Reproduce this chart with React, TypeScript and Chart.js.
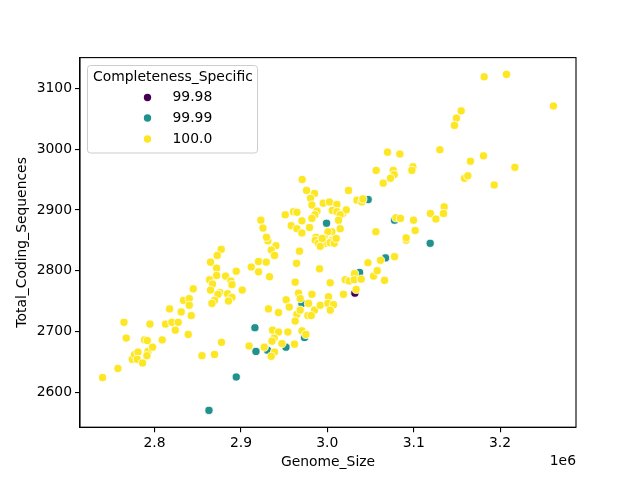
import React, { useEffect, useRef } from "react";
import { Chart, registerables } from "chart.js";

Chart.register(...registerables);

const completenessLevels = ["99.98", "99.99", "100.0"];
const levelColors = ["#440154", "#21918c", "#fde725"];

const genomeSize_9998 = [3031900];
const codingSeq_9998 = [2763];

const genomeSize_9999 = [
  2894600, 2863000, 2916200, 2973600, 2952100, 2917400, 2930800, 2970600,
  3037300, 3067400, 3119100, 2999100, 3047300, 3077800,
];
const codingSeq_9999 = [
  2625, 2570, 2706, 2690, 2674, 2667, 2669, 2746,
  2797, 2821, 2845, 2878, 2917, 2883,
];

const genomeSize_100 = [
  2739800, 2757600, 2764600, 2767200, 2774200, 2776900, 2780800, 2780000, 2786100, 2788400,
  2791600, 2792400, 2791200, 2797700, 2794700, 2808900, 2812700, 2817400, 2820100, 2827400,
  2824000, 2830900, 2833600, 2840200, 2840200, 2842500, 2839000, 2844800, 2854900, 2869400,
  2877500, 2909400, 2877200, 2872600, 2864800, 2871800, 2871800, 2863700, 2867100, 2864800,
  2875700, 2873400, 2869400, 2866400, 2882200, 2888400, 2889600, 2894600, 2884500, 2889600,
  2885600, 2901500, 2911900, 2931200, 2940500, 2935100, 2938900, 2967800, 2920400, 2920400,
  2929300, 2933100, 2964400, 2991000, 2962800, 3003400, 2966700, 2952400, 2968600, 2982200,
  3001400, 2955900, 2978200, 2931900, 2943500, 2964800, 2968600, 2985200, 2991800, 3000700,
  3007200, 3003400, 2977500, 2981400, 2962800, 2936600, 2943500, 2954400, 2970600, 2975200,
  2938500, 2935900, 2947500, 2962000, 2927000, 2938900, 2935100, 3018700, 3020700, 3025300,
  3031500, 3031200, 3039200, 3033400, 3047000, 3053500, 3057800, 3061600, 3077800, 3066200,
  3091300, 3069700, 3084000, 3056600, 3076300, 3077400, 3073100, 3064700, 3099100, 3097900,
  2970900, 2975900, 2985200, 2980600, 2995300, 3002500, 3011100, 2982200, 3024500, 3034300,
  3040000, 3041200, 2988000, 2985600, 3005700, 3011100, 3018100, 3021900, 3014900, 2951300,
  2960900, 2964800, 2982200, 2970600, 3013000, 2958200, 2964800, 2979400, 3014900, 3005300,
  3000700, 2970600, 2923100, 2925500, 2929600, 2986800, 2996800, 3005300, 2986000, 3001000,
  2997600, 3003400, 2989500, 2994100, 3008000, 2991800, 3010300, 3056200, 3079400, 3084700,
  3091300, 3099800, 3101700, 3181600, 3207400, 3261800, 3155000, 3149500, 3147200, 3130300,
  3180800, 3165700, 3217100, 3158800, 3162700, 3193200, 3135300, 3134500, 3119400, 3125700,
];
const codingSeq_100 = [
  2624, 2639, 2715, 2689, 2654, 2662, 2666, 2654, 2648, 2686,
  2685, 2667, 2660, 2674, 2712, 2686, 2712, 2737, 2715, 2715,
  2702, 2732, 2751, 2754, 2743, 2726, 2695, 2770, 2660, 2662,
  2682, 2676, 2835, 2825, 2814, 2804, 2792, 2785, 2778, 2768,
  2764, 2761, 2751, 2746, 2791, 2783, 2777, 2799, 2762, 2756,
  2750, 2768, 2806, 2849, 2841, 2834, 2825, 2832, 2815, 2798,
  2814, 2790, 2812, 2803, 2781, 2780, 2763, 2752, 2754, 2761,
  2757, 2740, 2746, 2737, 2731, 2728, 2735, 2735, 2743, 2746,
  2744, 2735, 2726, 2726, 2717, 2702, 2699, 2699, 2701, 2695,
  2689, 2684, 2680, 2679, 2674, 2666, 2659, 2761, 2785, 2783,
  2795, 2785, 2786, 2769, 2813, 2791, 2800, 2817, 2823, 2784,
  2850, 2995, 2992, 2965, 2965, 2958, 2952, 2944, 2971, 2965,
  2950, 2932, 2927, 2919, 2911, 2913, 2909, 2908, 2932, 2916,
  2913, 2918, 2898, 2892, 2899, 2897, 2894, 2900, 2892, 2892,
  2897, 2896, 2886, 2882, 2883, 2874, 2869, 2871, 2869, 2864,
  2864, 2862, 2883, 2870, 2855, 2855, 2853, 2850, 2850, 2847,
  2845, 2846, 2845, 2853, 2845, 2840, 2853, 2864, 2887, 2886,
  2854, 2883, 2866, 3119, 3123, 3071, 3063, 3051, 3039, 2999,
  2989, 2980, 2970, 2952, 2956, 2941, 2905, 2894, 2894, 2885,
];

const xTicks = [2800000, 2900000, 3000000, 3100000, 3200000];
const yTicks = [2600, 2700, 2800, 2900, 3000, 3100];

const xLabel = "Genome_Size";
const yLabel = "Total_Coding_Sequences";
const legendTitle = "Completeness_Specific";
const offsetText = "1e6";

const FONT = "'DejaVu Sans', sans-serif";
const FS = 13.9;

function pts(xs: number[], ys: number[]) {
  return xs.map((x, i) => ({ x, y: ys[i] }));
}

function limits(values: number[]) {
  const lo = Math.min(...values);
  const hi = Math.max(...values);
  const m = (hi - lo) * 0.05;
  return [lo - m, hi + m];
}

const framePlugin = {
  id: "frameAndLegend",
  afterDraw(chart: any) {
    const { ctx, chartArea } = chart;
    const { left, right, top, bottom } = chartArea;
    ctx.save();
    ctx.strokeStyle = "#000";
    ctx.lineWidth = 1.1;
    ctx.strokeRect(left, top, right - left, bottom - top);

    // offset text
    ctx.fillStyle = "#000";
    ctx.font = `${FS}px ${FONT}`;
    ctx.textAlign = "right";
    ctx.textBaseline = "middle";
    ctx.fillText(offsetText, right, 461);

    // legend
    const lx = 87.5, ly = 65.5, lw = 170, lh = 87.5;
    ctx.beginPath();
    (ctx as any).roundRect(lx, ly, lw, lh, 3);
    ctx.fillStyle = "rgba(255,255,255,0.8)";
    ctx.fill();
    ctx.strokeStyle = "#cccccc";
    ctx.lineWidth = 1;
    ctx.stroke();

    ctx.fillStyle = "#000";
    ctx.textAlign = "left";
    ctx.fillText(legendTitle, 93, 77);
    const rowsY = [97.5, 118, 139];
    completenessLevels.forEach((lab, i) => {
      ctx.beginPath();
      ctx.arc(147.5, rowsY[i], 3.7, 0, Math.PI * 2);
      ctx.fillStyle = levelColors[i];
      ctx.fill();
      ctx.fillStyle = "#000";
      ctx.fillText(lab, 172.5, rowsY[i]);
    });
    ctx.restore();
  },
};

export default function App() {
  const ref = useRef<HTMLCanvasElement | null>(null);

  useEffect(() => {
    if (!ref.current) return;
    const [xMin, xMax] = limits([...genomeSize_9998, ...genomeSize_9999, ...genomeSize_100]);
    const [yMin, yMax] = limits([...codingSeq_9998, ...codingSeq_9999, ...codingSeq_100]);
    const font = { family: FONT, size: FS };
    const pointStyle = {
      pointRadius: 4.1,
      pointBorderWidth: 0.8,
      pointBorderColor: "#ffffff",
      showLine: false,
    };
    const chart = new Chart(ref.current, {
      type: "scatter",
      data: {
        datasets: [
          {
            label: completenessLevels[0],
            data: pts(genomeSize_9998, codingSeq_9998),
            pointBackgroundColor: levelColors[0],
            order: 2,
            ...pointStyle,
          },
          {
            label: completenessLevels[1],
            data: pts(genomeSize_9999, codingSeq_9999),
            pointBackgroundColor: levelColors[1],
            order: 1,
            ...pointStyle,
          },
          {
            label: completenessLevels[2],
            data: pts(genomeSize_100, codingSeq_100),
            pointBackgroundColor: levelColors[2],
            order: 0,
            ...pointStyle,
          },
        ],
      },
      options: {
        animation: false,
        responsive: true,
        maintainAspectRatio: false,
        events: [],
        layout: { padding: { top: 57.6, right: 64, left: 0, bottom: 0 } },
        plugins: {
          legend: { display: false },
          tooltip: { enabled: false },
        },
        scales: {
          x: {
            type: "linear",
            min: xMin,
            max: xMax,
            afterBuildTicks: (s: any) => {
              s.ticks = xTicks.map((v) => ({ value: v }));
            },
            afterFit: (s: any) => {
              s.height = 52.8;
            },
            ticks: {
              color: "#000",
              font,
              padding: 3,
              maxRotation: 0,
              callback: (v: any) => (Number(v) / 1e6).toFixed(1),
            },
            grid: {
              display: true,
              drawOnChartArea: false,
              drawTicks: true,
              tickLength: 5,
              color: "#000",
              lineWidth: 1.1,
            },
            border: { display: true, color: "#000", width: 1.1 },
            title: {
              display: true,
              text: xLabel,
              color: "#000",
              font,
              padding: { top: 0, bottom: 9 },
            },
          },
          y: {
            type: "linear",
            min: yMin,
            max: yMax,
            afterBuildTicks: (s: any) => {
              s.ticks = yTicks.map((v) => ({ value: v }));
            },
            afterFit: (s: any) => {
              s.width = 80;
            },
            ticks: {
              color: "#000",
              font,
              padding: 3,
              callback: (v: any) => String(v),
            },
            grid: {
              display: true,
              drawOnChartArea: false,
              drawTicks: true,
              tickLength: 5,
              color: "#000",
              lineWidth: 1.1,
            },
            border: { display: true, color: "#000", width: 1.1 },
            title: {
              display: true,
              text: yLabel,
              color: "#000",
              font,
              padding: { top: 14, bottom: 0 },
            },
          },
        },
      },
      plugins: [framePlugin],
    });
    return () => chart.destroy();
  }, []);

  return (
    <div style={{ position: "fixed", left: 0, top: 0, width: 640, height: 480, background: "#fff" }}>
      <canvas ref={ref} />
    </div>
  );
}
